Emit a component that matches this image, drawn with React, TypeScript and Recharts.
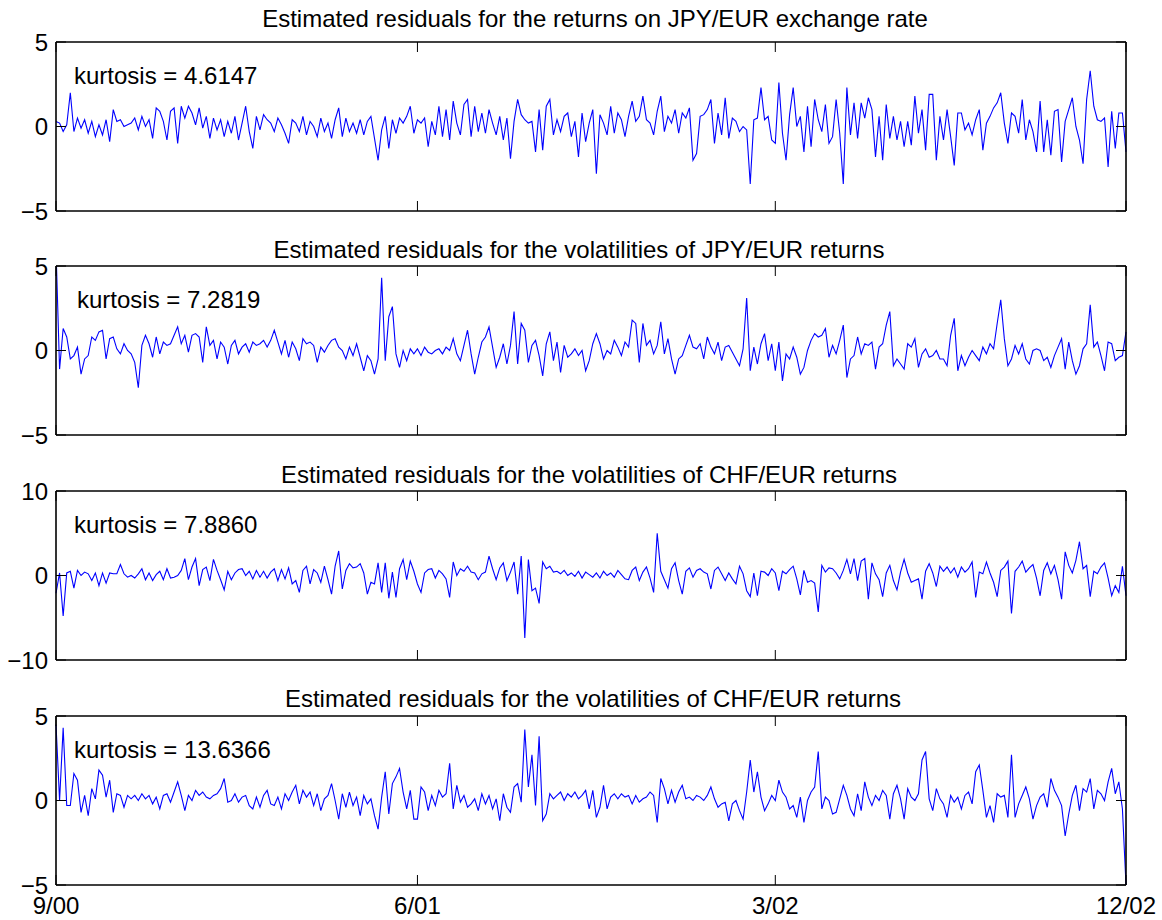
import { LineChart, Line, XAxis, YAxis } from 'recharts'

// time axis: one point per observation, dates marked at these positions
const dateTicks = [0, 101, 201, 299]
const dateLabels = ['9/00', '6/01', '3/02', '12/02']

const titles = [
  'Estimated residuals for the returns on JPY/EUR exchange rate',
  'Estimated residuals for the volatilities of JPY/EUR returns',
  'Estimated residuals for the volatilities of CHF/EUR returns',
  'Estimated residuals for the volatilities of CHF/EUR returns',
]
const kurtosis = ['4.6147', '7.2819', '7.8860', '13.6366']
const yLimits = [5, 5, 10, 5]

const jpyReturns = [
  0.3, 0.2, -0.3, 0.1, 2.0, -0.3, 0.5, -0.1, 0.4, -0.4, 0.3, -0.6, 0.1, -0.5, 0.4, -0.9, 1.0, 0.3, 0.4, 0.0,
  0.1, 0.2, 0.5, -0.2, 0.6, 0.0, 0.4, -0.7, 1.1, 0.9, 0.3, -0.8, 0.9, 1.1, -1.0, 1.2, 0.5, 1.2, 0.8, 0.1,
  1.1, -0.1, 0.6, -0.7, 0.5, -0.2, 0.4, -0.6, 0.3, -0.4, 0.6, -0.8, 0.2, 1.2, -0.3, -1.3, 0.6, -0.2, 0.7, 0.4,
  0.2, -0.3, 0.5, 0.1, -0.4, -1.0, 0.4, 0.2, -0.3, 0.6, -0.5, 0.3, 0.0, -0.6, 0.5, -0.3, 0.2, -0.7, 0.4, 1.1,
  -0.6, 0.5, -0.3, 0.2, -0.4, 0.4, -0.5, 0.3, 0.6, -0.7, -2.0, -0.2, 0.6, -1.3, 0.4, -0.4, 0.5, 0.2, 0.6, 1.2,
  -0.4, 0.4, 0.2, 0.5, -1.2, 0.3, -0.5, 1.2, -0.6, 1.0, -0.8, 1.5, 0.2, -0.5, 1.3, 1.6, -0.6, 1.2, -0.3, 0.8,
  -0.4, 1.0, 0.2, -0.5, 0.6, -0.8, 0.5, -1.9, 0.3, 1.6, 0.7, 0.4, 0.2, 0.3, -1.5, 1.0, -1.4, 1.2, 1.6, -0.5,
  0.4, -0.3, 0.6, 0.8, -0.6, 0.3, -1.8, 0.8, -0.9, 0.2, 1.0, -2.8, 0.7, 0.2, -0.5, 1.2, -0.4, 0.8, 0.4, -0.6,
  0.6, 1.5, 0.3, 0.6, 1.8, 0.4, 0.2, -0.5, 0.9, 1.8, -0.3, 0.6, 0.2, 1.0, -0.4, 0.8, 0.5, 1.1, -2.0, -1.6,
  0.6, 0.7, 1.0, 1.6, -1.0, 0.8, -0.5, 1.7, -0.7, 0.5, 0.3, -0.3, 0.0, -0.2, -3.4, 0.4, 0.5, 2.3, 0.4, 0.6,
  -0.8, -1.0, 2.6, -0.4, -2.0, 0.7, 2.3, 0.0, 0.6, -1.5, 1.2, -1.2, 1.6, 0.4, -0.3, 1.3, -1.0, -0.6, 1.6, -0.4,
  -3.4, 2.3, -0.5, 1.4, -0.7, 1.4, 0.5, 1.7, 1.0, -1.8, 0.6, -2.0, 1.3, -0.7, 0.6, -0.8, 0.3, -1.2, 0.3, -1.1,
  1.8, -0.4, 1.0, -1.4, 1.9, 1.9, -2.0, 0.6, -0.8, 1.0, -0.6, -2.3, 0.8, 0.8, -0.2, 0.2, -0.5, 0.4, 1.0, -1.4,
  0.2, 0.6, 1.1, 1.4, 2.0, 0.2, -1.0, 0.8, 0.6, -0.4, 1.6, -0.8, 0.4, -0.3, -1.5, 1.5, -1.5, 0.4, -1.7, 0.9,
  1.0, -2.1, 0.3, 1.0, 1.7, 0.0, -0.8, -2.2, 1.6, 3.3, 1.2, 0.4, 0.3, 0.5, -2.4, 0.9, -1.3, 0.8, 0.8, -1.5,
]

const jpyVolatility = [
  6.0, -1.1, 1.3, 0.8, -0.5, -0.3, 0.2, -1.4, -0.5, -0.3, 0.8, 0.6, 1.1, 1.2, -0.5, 0.7, 0.8, 0.1, -0.2, 0.4,
  0.0, -0.2, -0.7, -2.2, 0.3, 0.9, 0.4, -0.4, 0.8, -0.2, 0.5, 0.3, 0.4, 0.9, 1.4, 0.4, 0.9, -0.1, 0.9, 1.0,
  0.8, -0.7, 1.4, 0.3, 0.6, -0.5, 0.5, 0.2, -0.8, 0.3, 0.6, -0.2, 0.2, 0.4, -0.1, 0.5, 0.3, 0.4, 0.6, 0.2,
  0.6, 1.2, 0.5, -0.2, 0.6, -0.4, 0.5, 0.1, -0.6, 0.7, 0.4, 0.5, 0.3, -0.7, 0.2, -0.1, 0.3, 0.6, 0.7, 0.2,
  0.0, -0.5, 0.2, -0.3, 0.4, -0.4, -1.2, -0.3, -0.6, -1.4, -0.5, 4.3, -0.6, 2.0, 2.6, -0.2, -1.0, 0.0, -0.6, 0.1,
  -0.2, 0.1, -0.3, 0.2, -0.1, -0.2, 0.0, 0.1, -0.2, 0.2, 0.0, 0.7, -0.2, -0.6, 0.3, 1.2, -0.2, -1.4, -0.4, 0.5,
  0.8, 1.4, 0.2, -1.0, -0.4, 0.4, -0.8, 0.3, 2.3, -0.8, 1.6, 1.2, -0.7, 0.3, 0.6, -0.3, -1.5, 0.4, 1.1, -0.6,
  0.5, -1.3, 0.3, -0.4, -0.2, 0.1, -0.3, 0.0, -1.2, -0.6, 0.4, 1.0, 0.4, -0.5, 0.0, -0.2, 0.6, 0.2, -0.3, 0.5,
  0.2, 1.8, 1.6, -0.7, 1.6, 0.3, 0.6, -0.2, 0.3, 1.7, -0.2, 0.7, -0.5, -1.4, -0.5, -0.3, 0.3, 0.9, 0.2, 0.1,
  0.4, -0.5, 0.8, 0.2, -0.2, 0.5, -0.6, 0.2, 0.3, -0.1, -0.5, -0.9, 0.1, 3.1, -1.2, 0.2, -0.8, 0.4, 1.0, -0.6,
  0.4, -1.2, 0.5, -1.8, -0.2, -0.5, 0.2, -0.4, -1.4, -1.0, 0.0, 0.6, 1.0, 0.8, 0.9, 1.3, -0.4, 0.3, -0.2, 0.6,
  1.5, -1.6, -0.5, -0.3, 0.8, -0.2, 0.4, 0.3, 0.5, -1.1, 0.2, 0.4, 1.5, 2.3, -0.9, -0.5, -0.8, -1.1, 0.4, 0.2,
  0.7, -1.0, -0.2, 0.1, -0.4, -0.3, 0.0, -0.5, -0.5, -0.9, 0.9, 1.9, -1.2, -0.3, -0.9, -0.4, 0.0, -0.3, -0.6, 0.2,
  -0.2, 0.4, 0.1, 1.6, 3.0, 0.7, -0.9, -0.5, 0.3, -0.2, 0.4, -0.5, -0.8, 0.0, 0.1, 0.0, -0.6, -0.4, -1.0, -0.3,
  0.2, 0.7, -1.1, 0.5, -0.6, -1.4, -0.9, 0.1, 0.4, 2.7, 0.2, 0.5, -0.3, -1.2, 0.5, 0.4, -0.6, -0.4, -0.3, 1.1,
]

const chfVolatility = [
  -2.1, 0.3, -4.8, 0.3, 0.5, -1.5, 0.6, 0.0, 0.4, 0.2, -0.6, 0.3, -1.2, 0.3, -0.9, 0.3, 0.2, 0.2, 1.3, 0.2,
  -0.2, 0.0, -0.3, 0.2, 0.8, -0.5, 0.3, -0.6, 0.1, 0.5, -0.5, 0.8, -0.3, -0.2, 0.0, 0.6, 2.0, -0.5, 1.0, 2.0,
  -1.2, 0.7, 1.0, -0.6, 1.9, 0.6, -0.5, -1.7, 0.5, -0.5, 0.3, 0.7, 0.8, 0.0, 0.5, -0.4, 0.6, -0.2, 0.5, -0.3,
  0.4, 0.8, -0.6, 0.7, -0.4, 0.9, -1.0, -0.6, -2.0, 0.6, 1.1, -1.0, 0.7, 0.3, -0.8, 1.1, -0.5, -2.2, 1.1, 2.9,
  -1.6, 0.6, 1.4, 0.9, 1.0, 1.4, 0.3, -2.2, -0.8, -1.0, 1.5, -2.0, 1.5, -2.7, 0.4, -2.6, 0.8, 1.9, -0.5, 1.7,
  0.5, -1.0, -2.0, 0.3, 0.7, 0.8, -0.3, 0.6, 0.2, -0.4, -2.6, 1.6, 0.0, 0.8, 0.5, 1.1, 0.4, 0.3, -0.5, 0.2,
  0.4, 2.3, 0.8, -0.5, 0.9, 1.5, -0.6, 0.4, 1.6, -2.2, 2.3, -7.4, 1.9, -1.8, -1.5, -3.3, 1.6, 0.8, 1.1, 0.4,
  0.5, 0.2, 0.6, 0.0, 0.3, -0.1, 0.5, -0.3, 0.4, 0.1, -0.2, 0.3, -0.3, 0.5, 0.0, 0.3, -0.2, 0.6, 0.1, -0.4,
  -0.5, 0.6, 1.0, -0.6, 0.4, 1.0, -0.3, -2.0, 5.0, 0.5, -0.5, -1.5, 0.8, 1.5, -0.6, -2.2, 0.5, 0.9, -0.2, 0.6,
  0.8, 0.4, 0.2, -1.6, 0.6, 1.0, 0.2, -0.6, 0.3, -0.4, -1.0, 1.1, 0.2, -1.8, -2.5, 0.3, -2.4, 0.5, 0.4, 0.0,
  0.8, 0.3, -1.8, 0.5, 0.2, 0.7, 1.1, -0.4, -2.3, 0.6, -0.8, -0.6, -0.9, -4.3, 1.2, 0.4, 0.9, 0.8, 0.3, -0.4,
  0.6, 1.9, 0.2, 2.0, -0.6, 1.7, 2.0, -2.8, 1.5, 0.2, -0.5, -2.5, 0.3, 1.2, -0.6, -1.7, 0.4, 1.9, 0.3, -0.8,
  -0.6, -0.4, -2.8, 0.5, 1.4, 0.3, -1.3, 1.1, 0.5, 1.0, 0.3, 0.9, -0.2, 1.0, 0.4, 0.8, 1.6, -2.6, 0.4, 0.2,
  1.6, 0.3, -0.8, -2.5, 0.6, 1.0, 1.7, -4.5, 0.5, 1.0, 1.7, 0.4, 0.9, 1.3, -0.3, -2.4, 0.6, 1.5, 0.2, 1.2,
  -0.5, -2.8, 2.8, 1.2, 0.3, 1.8, 4.0, 0.8, 1.2, -2.5, 0.5, 0.2, 1.0, 1.5, -0.3, -2.4, -1.2, -2.0, 1.1, -2.4,
]

const chfVolatility2 = [
  4.5, 0.0, 4.3, -0.3, -0.3, 1.6, 1.2, -0.7, 0.3, -0.9, 0.7, 0.1, 1.8, 1.5, 0.2, 1.2, -0.7, 0.4, 0.3, -0.4,
  0.3, 0.1, 0.3, 0.0, 0.4, 0.1, 0.3, -0.2, 0.2, -0.5, 0.3, 0.4, -0.1, 0.5, 1.1, 0.3, -0.6, 0.3, 0.0, 0.6,
  0.3, 0.5, 0.2, 0.1, 0.3, 0.4, 0.7, 1.3, -0.1, 0.0, 0.4, -0.1, 0.2, 0.3, -0.3, -0.5, 0.2, -0.4, 0.3, 0.6,
  -0.2, -0.3, 0.2, -0.5, 0.4, 0.0, 0.5, 0.9, -0.2, 0.6, 0.2, 0.5, -0.3, 0.4, -0.6, 0.1, 0.3, 1.0, 0.0, -1.1,
  0.4, -0.4, 0.5, -0.3, 0.2, -0.9, 0.3, -0.2, 0.1, -0.9, -1.7, 0.2, 1.7, -0.8, 1.0, 1.4, 1.9, 0.5, -0.5, 0.6,
  -1.1, -1.1, 0.8, 0.5, -0.6, 0.3, -0.3, 0.6, 0.2, 0.4, 2.2, -0.5, 0.9, -0.1, 0.3, -0.4, -0.2, 0.1, -0.6, 0.4,
  -0.2, 0.3, -0.5, 0.1, -1.2, 0.4, -0.4, -0.7, 0.8, 1.0, -0.1, 4.2, 0.8, 2.7, -0.3, 3.8, -1.2, -0.8, 0.4, 0.1,
  0.3, 0.5, 0.0, 0.4, 0.2, 0.5, 0.1, 0.3, 0.6, -0.5, 0.6, -1.0, -0.4, 0.9, -0.5, 0.2, 0.4, 0.1, 0.4, 0.2,
  0.3, -0.2, 0.3, -0.1, 0.1, 0.2, 0.5, 0.3, -1.3, 1.3, 0.7, -0.2, 0.6, -0.1, 0.5, 0.9, 0.1, 0.2, 0.0, 0.3,
  0.2, 0.0, 0.3, 0.8, 0.1, -0.4, -0.2, -0.1, -1.2, -0.2, 0.0, -0.6, -1.1, 0.5, 2.4, 0.5, 1.7, 0.2, -0.6, -0.2,
  0.3, 0.0, 1.2, 0.5, 0.2, -0.5, -0.3, -1.0, 0.2, -1.3, 0.0, 0.5, 0.8, 2.9, -0.5, 0.2, 0.0, -0.8, -0.7, 0.1,
  0.9, 0.3, -0.5, -0.9, 0.4, -0.6, 1.1, 0.2, -0.3, 0.3, 0.0, 0.6, 0.3, -1.1, 0.4, 0.9, 0.1, -1.1, 0.7, 0.2,
  0.0, 0.4, 2.4, 2.9, 0.1, -0.6, 0.7, 0.1, -0.2, -1.0, 0.3, -0.1, 0.2, -0.5, 0.3, 0.5, -0.2, 1.7, 2.1, 0.6,
  -1.0, -0.3, -1.3, 0.4, 0.2, 0.3, -1.0, 2.7, -1.0, -0.2, 0.3, 0.8, 0.1, -1.1, -0.3, 0.2, 0.4, -0.4, 1.3, 0.6,
  0.2, -0.3, -2.1, -0.8, 0.3, 0.9, -0.6, 0.7, 0.5, 1.3, -0.5, 0.6, 0.4, 0.0, 1.1, 1.9, 0.4, 1.1, -0.5, -5.0,
]

const series = [jpyReturns, jpyVolatility, chfVolatility, chfVolatility2]

const FONT = '"Liberation Sans", Arial, Helvetica, sans-serif'
const FONT_SIZE = 24
const W = 1162
const PLOT_LEFT = 56
const PLOT_RIGHT = 1126
const PLOT_H = 169
const plotTops = [42, 266, 491, 716]
const titleCenters = [595, 579, 589, 593]
const titleBaselines = [27, 258, 483, 707]
const kurtosisX = [74, 77, 74, 74]

const axisLine = { stroke: '#000', strokeWidth: 1.6 }
const tickLine = { stroke: '#000', strokeWidth: 1 }
const tickStyle = { fill: '#000', fontSize: FONT_SIZE, fontFamily: FONT }
const blank = () => ''
const minus = (v: number) => (v < 0 ? `\u2212${Math.abs(v)}` : String(v))

interface PanelProps {
  values: number[]
  yMax: number
  top: number
  showDates: boolean
}

function Panel({ values, yMax, top, showDates }: PanelProps) {
  const data = values.map((v, t) => ({ t, v }))
  const last = values.length - 1
  const yTicks = [-yMax, 0, yMax]
  return (
    <div style={{ position: 'absolute', left: 0, top: top - 40 }}>
      <LineChart
        width={W}
        height={40 + PLOT_H + 35}
        data={data}
        margin={{ top: 39, right: W - PLOT_RIGHT - 1, bottom: 0, left: PLOT_LEFT - 50 }}
      >
        <XAxis
          xAxisId="top"
          orientation="top"
          dataKey="t"
          type="number"
          domain={[0, last]}
          ticks={dateTicks}
          interval={0}
          height={1}
          tickSize={-10}
          tickFormatter={blank}
          axisLine={axisLine}
          tickLine={tickLine}
        />
        <XAxis
          xAxisId="bottom"
          dataKey="t"
          type="number"
          domain={[0, last]}
          ticks={dateTicks}
          interval={0}
          height={35}
          tickSize={-10}
          tickMargin={22}
          tick={tickStyle}
          tickFormatter={showDates ? (v: number) => dateLabels[dateTicks.indexOf(v)] : blank}
          axisLine={axisLine}
          tickLine={tickLine}
        />
        <YAxis
          yAxisId="left"
          domain={[-yMax, yMax]}
          ticks={yTicks}
          allowDataOverflow
          interval={0}
          width={50}
          tickSize={-10}
          tickMargin={18}
          tick={tickStyle}
          tickFormatter={minus}
          axisLine={axisLine}
          tickLine={tickLine}
        />
        <YAxis
          yAxisId="right"
          orientation="right"
          domain={[-yMax, yMax]}
          ticks={yTicks}
          allowDataOverflow
          interval={0}
          width={1}
          tickSize={-10}
          tickFormatter={blank}
          axisLine={axisLine}
          tickLine={tickLine}
        />
        <Line
          xAxisId="bottom"
          yAxisId="left"
          dataKey="v"
          type="linear"
          stroke="#0000ff"
          strokeWidth={1.1}
          dot={false}
          activeDot={false}
          isAnimationActive={false}
        />
      </LineChart>
    </div>
  )
}

export default function App() {
  return (
    <div style={{ position: 'absolute', left: 0, top: 0, width: W, height: 920, background: '#fff' }}>
      {series.map((values, i) => (
        <Panel key={i} values={values} yMax={yLimits[i]} top={plotTops[i]} showDates={i === series.length - 1} />
      ))}
      <svg
        width={W}
        height={920}
        style={{ position: 'absolute', left: 0, top: 0, pointerEvents: 'none' }}
        fontFamily={FONT}
        fontSize={FONT_SIZE}
      >
        {titles.map((title, i) => (
          <text key={`t${i}`} x={titleCenters[i]} y={titleBaselines[i]} textAnchor="middle" fill="#000">
            {title}
          </text>
        ))}
        {kurtosis.map((k, i) => (
          <text key={`k${i}`} x={kurtosisX[i]} y={plotTops[i] + 42} fill="#000">
            kurtosis = {k}
          </text>
        ))}
      </svg>
    </div>
  )
}
